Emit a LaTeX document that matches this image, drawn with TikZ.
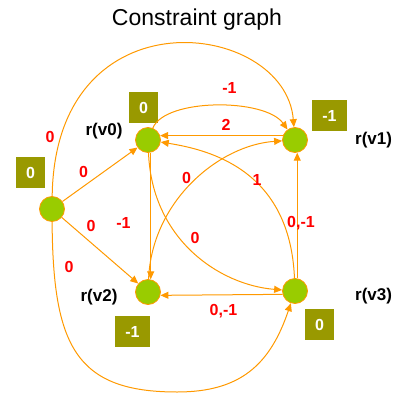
\documentclass[tikz,border=0pt]{standalone}
\usepackage{fontspec}
\setmainfont{Liberation Sans}
\usetikzlibrary{arrows.meta}
\definecolor{edgeor}{HTML}{FF9900}
\definecolor{nodegreen}{HTML}{99CC00}
\definecolor{boxol}{HTML}{999900}
\begin{document}
\begin{tikzpicture}[x=1pt,y=-1pt,
  vert/.style={circle,fill=nodegreen,draw=edgeor,line width=0.8pt,minimum size=25pt,inner sep=0pt},
  edge/.style={draw=edgeor,line width=1pt,-{Triangle[length=8pt,width=7pt]}},
  wlabel/.style={text=red,font=\fontsize{16}{16}\selectfont\bfseries,anchor=base,inner sep=0pt},
  rlabel/.style={font=\fontsize{17}{17}\selectfont\bfseries,inner sep=0pt},
  valbox/.style={fill=boxol,text=white,font=\fontsize{16}{16}\selectfont\bfseries,minimum height=31pt,inner sep=0pt},
]
\useasboundingbox (0,0) rectangle (392,393);
% title
\node[font=\fontsize{23}{23}\selectfont,anchor=base,inner sep=0pt] (title) at (197,26) {Constraint graph};
% vertices
\node[vert] (s) at (52,209) {};
\node[vert] (v0) at (148,140) {};
\node[vert] (v1) at (295,140) {};
\node[vert] (v2) at (148,292) {};
\node[vert] (v3) at (295,291) {};
% value boxes
\node[valbox,minimum width=29pt] (bs) at (30.5,172.5) {0};
\node[valbox,minimum width=29pt] (b0) at (143.5,107.5) {0};
\node[valbox,minimum width=35pt] (b1) at (329.5,115.5) {-1};
\node[valbox,minimum width=35pt] (b2) at (132.5,331.5) {-1};
\node[valbox,minimum width=29pt] (b3) at (319.5,324.5) {0};
% r labels
\node[rlabel,anchor=base] (r0) at (104,135.5) {r(v0)};
\node[rlabel,anchor=base west] (r1) at (355,144.5) {r(v1)};
\node[rlabel,anchor=base] (r2) at (99,301.5) {r(v2)};
\node[rlabel,anchor=base west] (r3) at (355,300.5) {r(v3)};
% edges
\draw[edge] (s) -- (v0);
\draw[edge] (s) -- (v2);
\draw[edge] (s) .. controls (55,-10) and (285,20) .. (v1);
\draw[edge] (s) .. controls (53,345) and (75,392) .. (177,392) .. controls (240,392) and (270,365) .. (v3);
\draw[edge] (v0) .. controls (165,98) and (265,98) .. (v1);
\draw[edge] (v1.160) -- (v0.20);
\draw[edge] (v3) .. controls (290,170) and (210,150) .. (v0);
\draw[edge] (v0.282) -- (v2.78);
\draw[edge] (v0) .. controls (152,240) and (220,285) .. (v3);
\draw[edge] (v2) .. controls (152,200) and (220,145) .. (v1);
\draw[edge] (v3.80) -- (v1.280);
\draw[edge] (v3.195) -- (v2.345);
% weight labels
\node[wlabel] (w1) at (50,142) {0};
\node[wlabel] (w2) at (83.5,177.5) {0};
\node[wlabel] (w3) at (91,231.5) {0};
\node[wlabel] (w4) at (69,272.5) {0};
\node[wlabel] (w5) at (229.5,94) {-1};
\node[wlabel] (w6) at (226,130) {2};
\node[wlabel] (w7) at (123.5,228.5) {-1};
\node[wlabel] (w8) at (186.5,183.5) {0};
\node[wlabel] (w9) at (257,185) {1};
\node[wlabel] (w10) at (195,243.5) {0};
\node[wlabel] (w11) at (301,227.5) {0,-1};
\node[wlabel] (w12) at (223.5,315) {0,-1};
\end{tikzpicture}
\end{document}
